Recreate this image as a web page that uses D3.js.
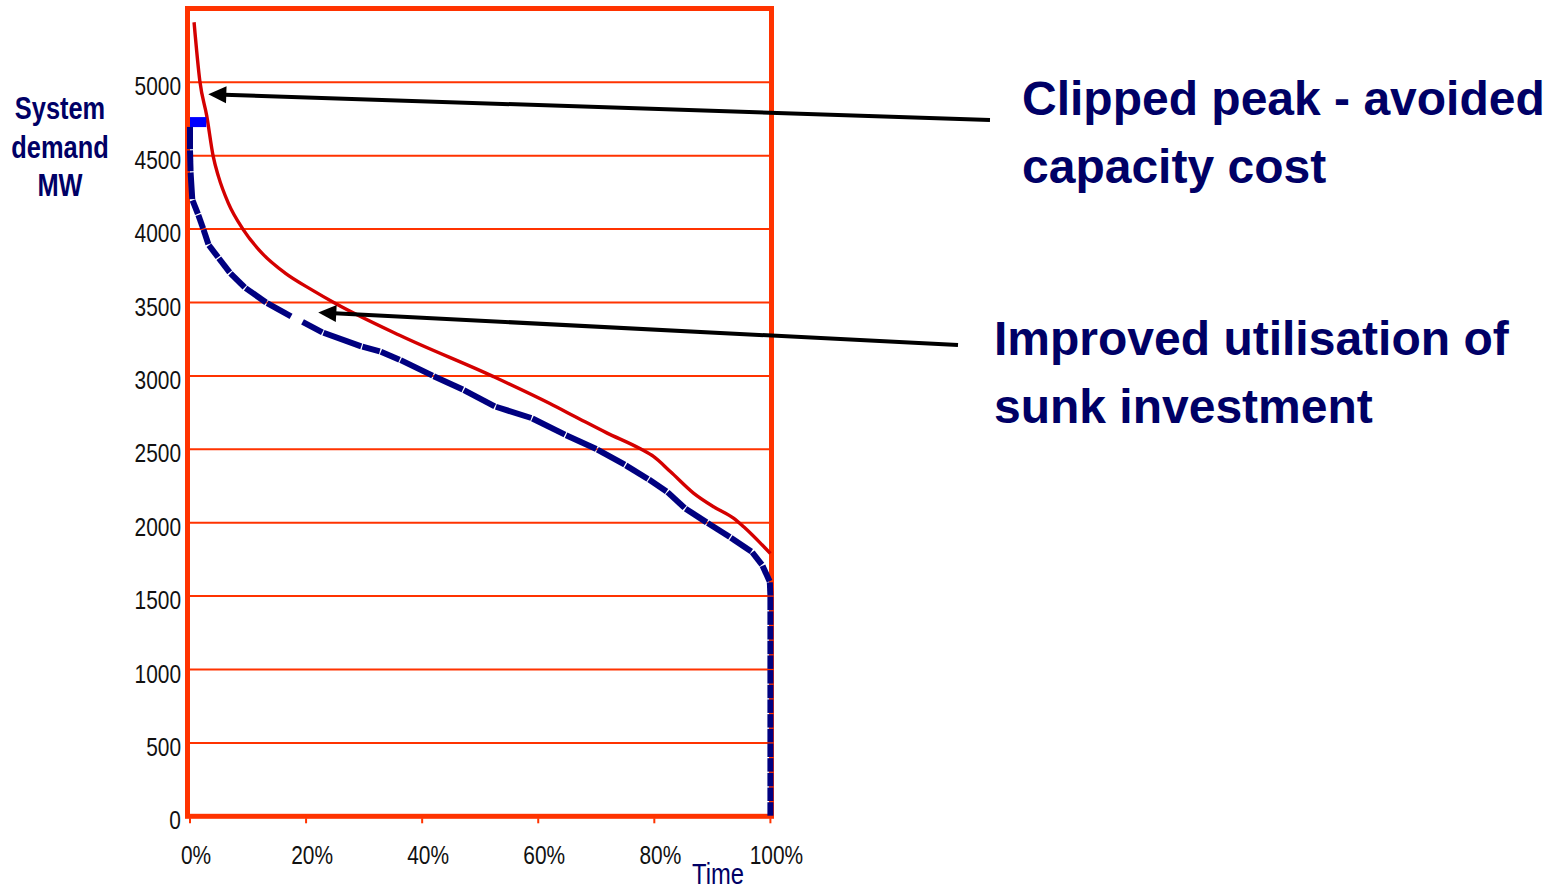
<!DOCTYPE html>
<html>
<head>
<meta charset="utf-8">
<script src="https://cdn.jsdelivr.net/npm/d3@7"></script>
<style>
  html, body { margin: 0; padding: 0; background: #ffffff; }
  svg { display: block; }
  .narrow { font-family: "Liberation Sans", Arial, Helvetica, sans-serif; }
  .bold { font-family: "Liberation Sans", Arial, Helvetica, sans-serif; font-weight: bold; }
</style>
</head>
<body>
<svg id="chart" width="1551" height="891"></svg>
<script>
// ---- data -------------------------------------------------------------
const yTickValues = [0, 500, 1000, 1500, 2000, 2500, 3000, 3500, 4000, 4500, 5000];
const xTickValues = [0, 20, 40, 60, 80, 100];
const xTickLabels = ["0%", "20%", "40%", "60%", "80%", "100%"];
const yTitleLines = ["System", "demand", "MW"];
const xTitle = "Time";

// original load duration curve: [% of time, MW]
const originalLoad = [
  [0.7, 5409], [1.7, 5007], [2.9, 4768], [4.0, 4495], [4.9, 4359], [6.6, 4177],
  [9.2, 3995], [12.4, 3836], [16.4, 3700], [21.0, 3586], [25.0, 3495], [36.2, 3275],
  [52.3, 2995], [62.0, 2812], [67.2, 2705], [71.8, 2612], [77.6, 2503], [79.9, 2450],
  [82.8, 2347], [86.8, 2200], [90.2, 2109], [93.7, 2030], [95.4, 1972], [100, 1790]
];

// managed load duration curve: [% of time, MW]; null marks a break in the line
const managedLoad = [
  [0, 4700], [0, 4540], [0.1, 4390], [0.4, 4200], [1.4, 4100], [2.3, 4000],
  [3.2, 3893], [4.9, 3805], [6.9, 3702], [9.5, 3600], [13.2, 3498], [17.5, 3404],
  [18.4, null], [19.3, 3370], [22.9, 3295], [29.6, 3200], [32.8, 3166], [36.2, 3109],
  [41.9, 3000], [47.1, 2905], [52.6, 2791], [58.9, 2712], [64.7, 2598], [70.1, 2500],
  [75.0, 2393], [79.0, 2296], [82.2, 2211], [85.3, 2098], [89.1, 2000], [93.1, 1900],
  [96.8, 1802], [98.6, 1711], [99.9, 1597], [100, 1500], [100, 1400], [100, 1300],
  [100, 1200], [100, 1100], [100, 1000], [100, 900], [100, 800], [100, 700],
  [100, 600], [100, 500], [100, 400], [100, 300], [100, 200], [100, 100], [100, 0]
];

// clipped peak level: [% of time, MW]
const clippedPeak = [[0, 4729], [2.8, 4729]];

// annotation texts and the point each arrow points at ([% of time, MW])
const noteClipped = ["Clipped peak - avoided", "capacity cost"];
const noteClippedTarget = [3.15, 4919];
const noteUtilisation = ["Improved utilisation of", "sunk investment"];
const noteUtilisationTarget = [22.1, 3432];

// ---- drawing ----------------------------------------------------------
const svg = d3.select("#chart");
const ORANGE = "#ff3300";
const NAVY = "#000066";
const NARROW = 0.82; // horizontal squeeze giving a condensed face

const x = d3.scaleLinear().domain([0, 100]).range([190, 770.4]);
const y = d3.scaleLinear().domain([0, 5500]).range([816.3, 8.9]);

// places a condensed text at (px, py)
function narrowText(sel, px, py) {
  sel.attr("class", "narrow")
    .attr("x", 0).attr("y", 0)
    .attr("transform", (d, i) => `translate(${px(d, i)},${py(d, i)}) scale(${NARROW},1)`);
}

// horizontal gridlines
svg.append("g")
  .selectAll("line")
  .data(yTickValues.filter(v => v > 0))
  .join("line")
  .attr("x1", x(0)).attr("x2", x(100))
  .attr("y1", d => y(d)).attr("y2", d => y(d))
  .attr("stroke", ORANGE).attr("stroke-width", 2);

// plot frame
svg.append("rect")
  .attr("x", x(0) - 2.5).attr("y", y(5500) - 0.4)
  .attr("width", x(100) - x(0) + 3.6).attr("height", y(0) - y(5500) + 0.4)
  .attr("fill", "none").attr("stroke", ORANGE).attr("stroke-width", 5);

// x tick marks
svg.append("g")
  .selectAll("line")
  .data(xTickValues)
  .join("line")
  .attr("x1", d => x(d)).attr("x2", d => x(d))
  .attr("y1", y(0) + 2).attr("y2", y(0) + 7)
  .attr("stroke", ORANGE).attr("stroke-width", 2);

// red curve
svg.append("path")
  .datum(originalLoad)
  .attr("fill", "none")
  .attr("stroke", "#d40000")
  .attr("stroke-width", 3.4)
  .attr("d", d3.line().x(d => x(d[0])).y(d => y(d[1])).curve(d3.curveMonotoneX));

// navy curve, drawn segment by segment with a hairline gap at every vertex
const segs = d3.pairs(managedLoad).filter(([a, b]) => a[1] !== null && b[1] !== null);
svg.append("g")
  .selectAll("line")
  .data(segs)
  .join("line")
  .each(function([a, b]) {
    const x1 = x(a[0]), y1 = y(a[1]), x2 = x(b[0]), y2 = y(b[1]);
    const len = Math.hypot(x2 - x1, y2 - y1) || 1;
    const ux = (x2 - x1) / len, uy = (y2 - y1) / len, g = 0.6;
    d3.select(this)
      .attr("x1", x1 + ux * g).attr("y1", y1 + uy * g)
      .attr("x2", x2 - ux * g).attr("y2", y2 - uy * g);
  })
  .attr("stroke", "#000080")
  .attr("stroke-width", 6)
  .attr("stroke-linecap", "butt");

// clipped peak bar
svg.append("line")
  .attr("x1", x(clippedPeak[0][0])).attr("x2", x(clippedPeak[1][0]))
  .attr("y1", y(clippedPeak[0][1])).attr("y2", y(clippedPeak[1][1]))
  .attr("stroke", "#0000ff").attr("stroke-width", 10);

// y tick labels
svg.append("g")
  .selectAll("text")
  .data(yTickValues)
  .join("text")
  .call(narrowText, () => 181, d => y(d) + 4)
  .attr("dy", "0.36em")
  .attr("text-anchor", "end")
  .attr("font-size", 25.5)
  .attr("fill", "#111")
  .text(d => d);

// x tick labels
svg.append("g")
  .selectAll("text")
  .data(xTickValues)
  .join("text")
  .call(narrowText, d => x(d) + 6, () => 855)
  .attr("dy", "0.36em")
  .attr("text-anchor", "middle")
  .attr("font-size", 25.5)
  .attr("fill", "#111")
  .text((d, i) => xTickLabels[i]);

// axis titles
svg.append("text")
  .datum(xTitle)
  .call(narrowText, () => 718, () => 874)
  .attr("dy", "0.36em")
  .attr("text-anchor", "middle")
  .attr("font-size", 29)
  .attr("fill", NAVY)
  .text(d => d);

svg.append("g")
  .selectAll("text")
  .data(yTitleLines)
  .join("text")
  .call(narrowText, () => 60, (d, i) => 108 + i * 38.5)
  .attr("font-weight", "bold")
  .attr("dy", "0.36em")
  .attr("text-anchor", "middle")
  .attr("font-size", 31)
  .attr("fill", NAVY)
  .text(d => d);

// annotations with arrows
function annotate(lines, tx, ty, target, tail) {
  svg.append("g")
    .selectAll("text")
    .data(lines)
    .join("text")
    .attr("class", "bold")
    .attr("x", tx)
    .attr("y", (d, i) => ty + i * 68)
    .attr("font-size", 48)
    .attr("fill", NAVY)
    .text(d => d);

  const px = x(target[0]), py = y(target[1]);
  const dx = px - tail[0], dy = py - tail[1];
  const len = Math.hypot(dx, dy);
  const ux = dx / len, uy = dy / len;
  const headLen = 18, headHalf = 8.5;
  const bx = px - ux * headLen, by = py - uy * headLen;
  svg.append("line")
    .attr("x1", tail[0]).attr("y1", tail[1])
    .attr("x2", bx + ux * 2).attr("y2", by + uy * 2)
    .attr("stroke", "#000").attr("stroke-width", 4);
  svg.append("path")
    .attr("d", d3.line()([
      [px, py],
      [bx - uy * headHalf, by + ux * headHalf],
      [bx + uy * headHalf, by - ux * headHalf]
    ]) + "Z")
    .attr("fill", "#000");
}

annotate(noteClipped, 1022, 115, noteClippedTarget, [990, 120]);
annotate(noteUtilisation, 994, 355, noteUtilisationTarget, [958, 345]);
</script>
</body>
</html>
